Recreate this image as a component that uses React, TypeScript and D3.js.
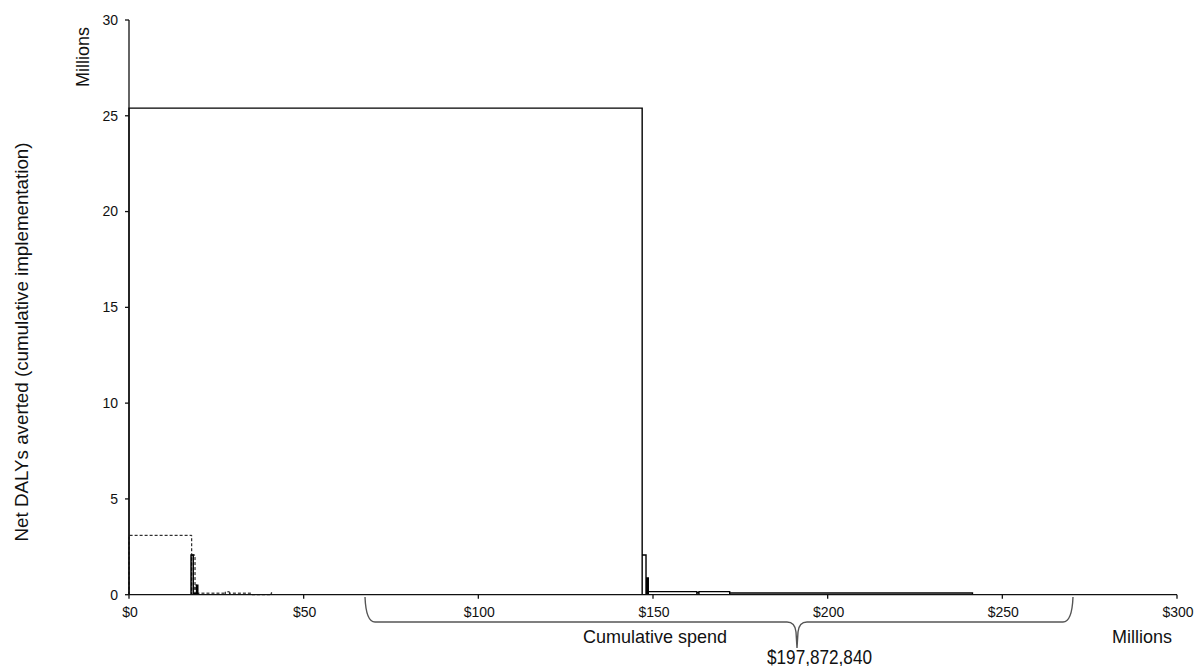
import React from "react";
import * as d3 from "d3";

const yTicks = [0, 5, 10, 15, 20, 25, 30];
const xTicks = [0, 50, 100, 150, 200, 250, 300];

// Solid series A: cumulative spend (millions) widths and net DALYs averted (millions)
const solidAStart = 0;
const solidAWidths = [146.9, 1.1, 0.3, 0.35, 13.9, 0.6, 8.8, 69.5];
const solidAHeights = [25.4, 2.07, 0.08, 0.87, 0.16, 0.1, 0.16, 0.09];

// Solid series B (early interventions)
const solidBStart = 17.75;
const solidBWidths = [0.65, 0.95, 0.35];
const solidBHeights = [2.07, 0.05, 0.5];

// Dashed series C
const dashedStart = 0;
const dashedWidths = [17.95, 0.95, 0.6, 0.25, 7.8, 1.2, 6.45, 5.5, 0.2];
const dashedHeights = [3.1, 2.07, 0.5, 0.02, 0.08, 0.15, 0.08, 0, 0.1];

const braceLabel = "$197,872,840";

const FONT = "'Liberation Sans', Arial, sans-serif";

function rectsPath(
  start: number,
  widths: number[],
  heights: number[],
  x: d3.ScaleLinear<number, number>,
  y: d3.ScaleLinear<number, number>
) {
  let c = start;
  let d = "";
  widths.forEach((w, i) => {
    const x0 = x(c);
    const x1 = x(c + w);
    const y0 = y(0);
    const y1 = y(heights[i]);
    d += `M${x0},${y0}V${y1}H${x1}V${y0}`;
    c += w;
  });
  return d;
}

export default function App() {
  const W = 1195;
  const H = 666;
  const x = d3.scaleLinear().domain([0, 300]).range([129, 1177]);
  const y = d3.scaleLinear().domain([0, 30]).range([594.7, 20]);

  const pathA = rectsPath(solidAStart, solidAWidths, solidAHeights, x, y);
  const pathB = rectsPath(solidBStart, solidBWidths, solidBHeights, x, y);
  const pathC = rectsPath(dashedStart, dashedWidths, dashedHeights, x, y);

  const braceY0 = 597;
  const braceY1 = 622;
  const bx0 = 365;
  const bx1 = 1073;
  const cx = 797;
  const brace = `M${bx0},${braceY0} Q${bx0 + 1},${braceY1} ${bx0 + 10},${braceY1} L${cx - 10},${braceY1} Q${cx - 2},${braceY1} ${cx - 1},${braceY1 + 10} L${cx},${648} L${cx + 1},${braceY1 + 10} Q${cx + 2},${braceY1} ${cx + 10},${braceY1} L${bx1 - 10},${braceY1} Q${bx1 - 1},${braceY1} ${bx1},${braceY0}`;

  return (
    <svg
      width={W}
      height={H}
      style={{ position: "absolute", left: 0, top: 0, background: "#fff" }}
      fontFamily={FONT}
    >
      <rect x={0} y={0} width={W} height={H} fill="#fff" />
      {/* series */}
      <path d={pathC} fill="none" stroke="#000" strokeWidth={1} strokeDasharray="3,2" />
      <path d={pathA} fill="none" stroke="#000" strokeWidth={1.4} />
      <path d={pathB} fill="none" stroke="#000" strokeWidth={1.4} />

      {/* y axis */}
      <line x1={x(0)} x2={x(0)} y1={y(30)} y2={y(0)} stroke="#111" strokeWidth={1.3} />
      {yTicks.map((t) => (
        <g key={"y" + t}>
          <line x1={x(0) - 4} x2={x(0)} y1={y(t)} y2={y(t)} stroke="#111" strokeWidth={1.3} />
          <text x={x(0) - 11} y={y(t)} dy="0.35em" textAnchor="end" fontSize={14} fill="#111">
            {t}
          </text>
        </g>
      ))}

      {/* x axis */}
      <line x1={x(0)} x2={x(300)} y1={y(0)} y2={y(0)} stroke="#111" strokeWidth={1.3} />
      {xTicks.map((t) => (
        <g key={"x" + t}>
          <line x1={x(t)} x2={x(t)} y1={y(0)} y2={y(0) + 4} stroke="#111" strokeWidth={1.3} />
          <text x={x(t) + 1} y={612} dy="0.35em" textAnchor="middle" fontSize={14} fill="#111">
            {"$" + t}
          </text>
        </g>
      ))}

      {/* brace */}
      <path d={brace} fill="none" stroke="#555" strokeWidth={1.4} />

      {/* titles */}
      <text
        transform="translate(28,342) rotate(-90)"
        textAnchor="middle"
        fontSize={18}
        fill="#111"
        textLength={399}
        lengthAdjust="spacingAndGlyphs"
      >
        Net DALYs averted  (cumulative  implementation)
      </text>
      <text
        transform="translate(89,57) rotate(-90)"
        textAnchor="middle"
        fontSize={18}
        fill="#111"
        textLength={60}
        lengthAdjust="spacingAndGlyphs"
      >
        Millions
      </text>
      <text
        x={655}
        y={642.5}
        textAnchor="middle"
        fontSize={19}
        fill="#111"
        textLength={144}
        lengthAdjust="spacingAndGlyphs"
      >
        Cumulative spend
      </text>
      <text
        x={1142}
        y={642.5}
        textAnchor="middle"
        fontSize={19}
        fill="#111"
        textLength={60}
        lengthAdjust="spacingAndGlyphs"
      >
        Millions
      </text>
      <text
        x={819.5}
        y={663.5}
        textAnchor="middle"
        fontSize={20}
        fill="#111"
        textLength={105}
        lengthAdjust="spacingAndGlyphs"
      >
        {braceLabel}
      </text>
    </svg>
  );
}
